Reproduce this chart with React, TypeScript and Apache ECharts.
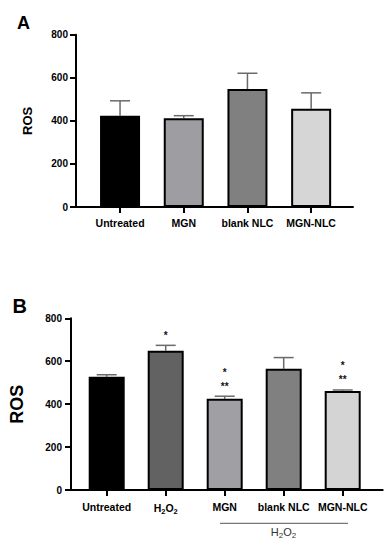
import React, { useEffect, useRef } from "react";
import * as echarts from "echarts";

const FONT = "'Liberation Sans', Arial, Helvetica, sans-serif";

// Panel A
const catsA = ["Untreated", "MGN", "blank NLC", "MGN-NLC"];
const meanA = [424, 412, 548, 456];
const upperA = [493, 424, 621, 530];
const colorsA = ["#000000", "#9e9ea2", "#808080", "#d6d6d6"];

// Panel B
const catsB = ["Untreated", "H2O2", "MGN", "blank NLC", "MGN-NLC"];
const meanB = [528, 649, 425, 565, 461];
const upperB = [537, 674, 437, 617, 466];
const sigB = ["", "*", "*\n**", "", "*\n**"];
const colorsB = ["#000000", "#626262", "#a0a0a4", "#808080", "#d4d4d4"];

const yTicks = [0, 200, 400, 600, 800];

function errRender(sig: string[]) {
  return (params: any, api: any) => {
    const i = api.value(0);
    const top = api.coord([i, api.value(1)]);
    const up = api.coord([i, api.value(2)]);
    const children: any[] = [
      {
        type: "line",
        shape: { x1: top[0], y1: top[1], x2: up[0], y2: up[1] },
        style: { stroke: "#6a6a6a", lineWidth: 1.5 },
      },
      {
        type: "line",
        shape: { x1: up[0] - 10, y1: up[1], x2: up[0] + 10, y2: up[1] },
        style: { stroke: "#6a6a6a", lineWidth: 1.5 },
      },
    ];
    const s = sig[params.dataIndex];
    if (s) {
      children.push({
        type: "text",
        x: up[0],
        y: up[1] - 3,
        style: {
          text: s,
          align: "center",
          verticalAlign: "bottom",
          fontSize: 10,
          lineHeight: 14,
          fontWeight: "bold",
          fontFamily: FONT,
          fill: "#111111",
        },
      });
    }
    return { type: "group", children };
  };
}

export default function App() {
  const ref = useRef<HTMLDivElement>(null);
  useEffect(() => {
    if (!ref.current) return;
    const chart = echarts.init(ref.current, null, { renderer: "svg" });
    const axisFrameY = (grid: number, name: string, nameSize: number, gap: number, margin: number) => ({
      type: "value",
      gridIndex: grid,
      min: yTicks[0],
      max: yTicks[yTicks.length - 1],
      interval: 200,
      name,
      nameLocation: "middle",
      nameGap: gap,
      nameRotate: 90,
      nameTextStyle: { fontSize: nameSize, fontWeight: "bold", fontFamily: FONT, color: "#000" },
      axisLine: { show: true, lineStyle: { color: "#000", width: 2 } },
      axisTick: { show: true, length: 6, lineStyle: { color: "#000", width: 2 } },
      axisLabel: { fontSize: 10, fontWeight: "bold", fontFamily: FONT, color: "#000", margin },
      splitLine: { show: false },
    });
    const hiddenY = (grid: number) => ({
      type: "value",
      gridIndex: grid,
      min: 0,
      max: 800,
      show: false,
    });
    const frameX = (grid: number) => ({
      type: "value",
      gridIndex: grid,
      min: 0,
      max: 1,
      axisLine: { show: true, lineStyle: { color: "#000", width: 2 } },
      axisTick: { show: false },
      axisLabel: { show: false },
      splitLine: { show: false },
    });
    const catX = (grid: number, cats: string[], margin: number) => ({
      type: "category",
      gridIndex: grid,
      data: cats,
      axisLine: { show: false },
      axisTick: { show: true, alignWithLabel: true, length: 6, lineStyle: { color: "#000", width: 2 } },
      axisLabel: {
        interval: 0,
        margin,
        fontSize: 10.5,
        fontWeight: "bold",
        fontFamily: FONT,
        color: "#000",
        formatter: (v: string) => (v === "H2O2" ? "{b|H}{s|2}{b|O}{s|2}" : v),
        rich: {
          b: { fontSize: 10.5, fontWeight: "bold", fontFamily: FONT, color: "#000" },
          s: { fontSize: 7.5, fontWeight: "bold", fontFamily: FONT, color: "#000", padding: [6, 0, 0, 0] },
        },
      },
      splitLine: { show: false },
    });

    chart.setOption({
      animation: false,
      backgroundColor: "#fff",
      grid: [
        { left: 76, width: 277, top: 34.7, height: 172.3 },
        { left: 88.2, width: 254.8, top: 34.7, height: 172.3 },
        { left: 66.7, width: 316, top: 318.3, height: 171.7 },
        { left: 77.2, width: 295, top: 318.3, height: 171.7 },
      ],
      xAxis: [frameX(0), catX(1, catsA, 10), frameX(2), catX(3, catsB, 11)],
      yAxis: [
        axisFrameY(0, "ROS", 13, 42, 8),
        hiddenY(1),
        axisFrameY(2, "ROS", 18, 45, 9),
        hiddenY(3),
      ],
      series: [
        {
          type: "custom",
          xAxisIndex: 1,
          yAxisIndex: 1,
          z: 1,
          itemStyle: { color: "#111111" },
          renderItem: errRender(catsA.map(() => "")),
          data: catsA.map((_, i) => [i, meanA[i], upperA[i]]),
        },
        {
          type: "bar",
          xAxisIndex: 1,
          yAxisIndex: 1,
          z: 2,
          barWidth: 40,
          data: meanA.map((v, i) => ({
            value: v,
            itemStyle: { color: colorsA[i], borderColor: "#000", borderWidth: 2 },
          })),
        },
        {
          type: "custom",
          xAxisIndex: 3,
          yAxisIndex: 3,
          z: 1,
          itemStyle: { color: "#111111" },
          renderItem: errRender(sigB),
          data: catsB.map((_, i) => [i, meanB[i], upperB[i]]),
        },
        {
          type: "bar",
          xAxisIndex: 3,
          yAxisIndex: 3,
          z: 2,
          barWidth: 36,
          data: meanB.map((v, i) => ({
            value: v,
            itemStyle: { color: colorsB[i], borderColor: "#000", borderWidth: 2 },
          })),
        },
      ],
      graphic: [
        {
          type: "text",
          x: 17,
          y: 23,
          style: { text: "A", fontSize: 18, fontWeight: "bold", fontFamily: FONT, fill: "#000", verticalAlign: "middle" },
        },
        {
          type: "text",
          x: 12.5,
          y: 305.5,
          style: { text: "B", fontSize: 20, fontWeight: "bold", fontFamily: FONT, fill: "#000", verticalAlign: "middle" },
        },
        {
          type: "line",
          shape: { x1: 220, y1: 523.3, x2: 348, y2: 523.3 },
          style: { stroke: "#555", lineWidth: 1 },
        },
        {
          type: "text",
          x: 283.5,
          y: 532,
          style: {
            text: "{n|H}{s|2}{n|O}{s|2}",
            align: "center",
            verticalAlign: "middle",
            fontFamily: FONT,
            rich: {
              n: { fontSize: 11, fontFamily: FONT, fill: "#333" },
              s: { fontSize: 8, fontFamily: FONT, fill: "#333", padding: [6, 0, 0, 0] },
            },
          },
        },
      ],
    });
    return () => chart.dispose();
  }, []);
  return (
    <div
      ref={ref}
      style={{ position: "absolute", left: 0, top: 0, width: 387, height: 550, background: "#fff" }}
    />
  );
}
